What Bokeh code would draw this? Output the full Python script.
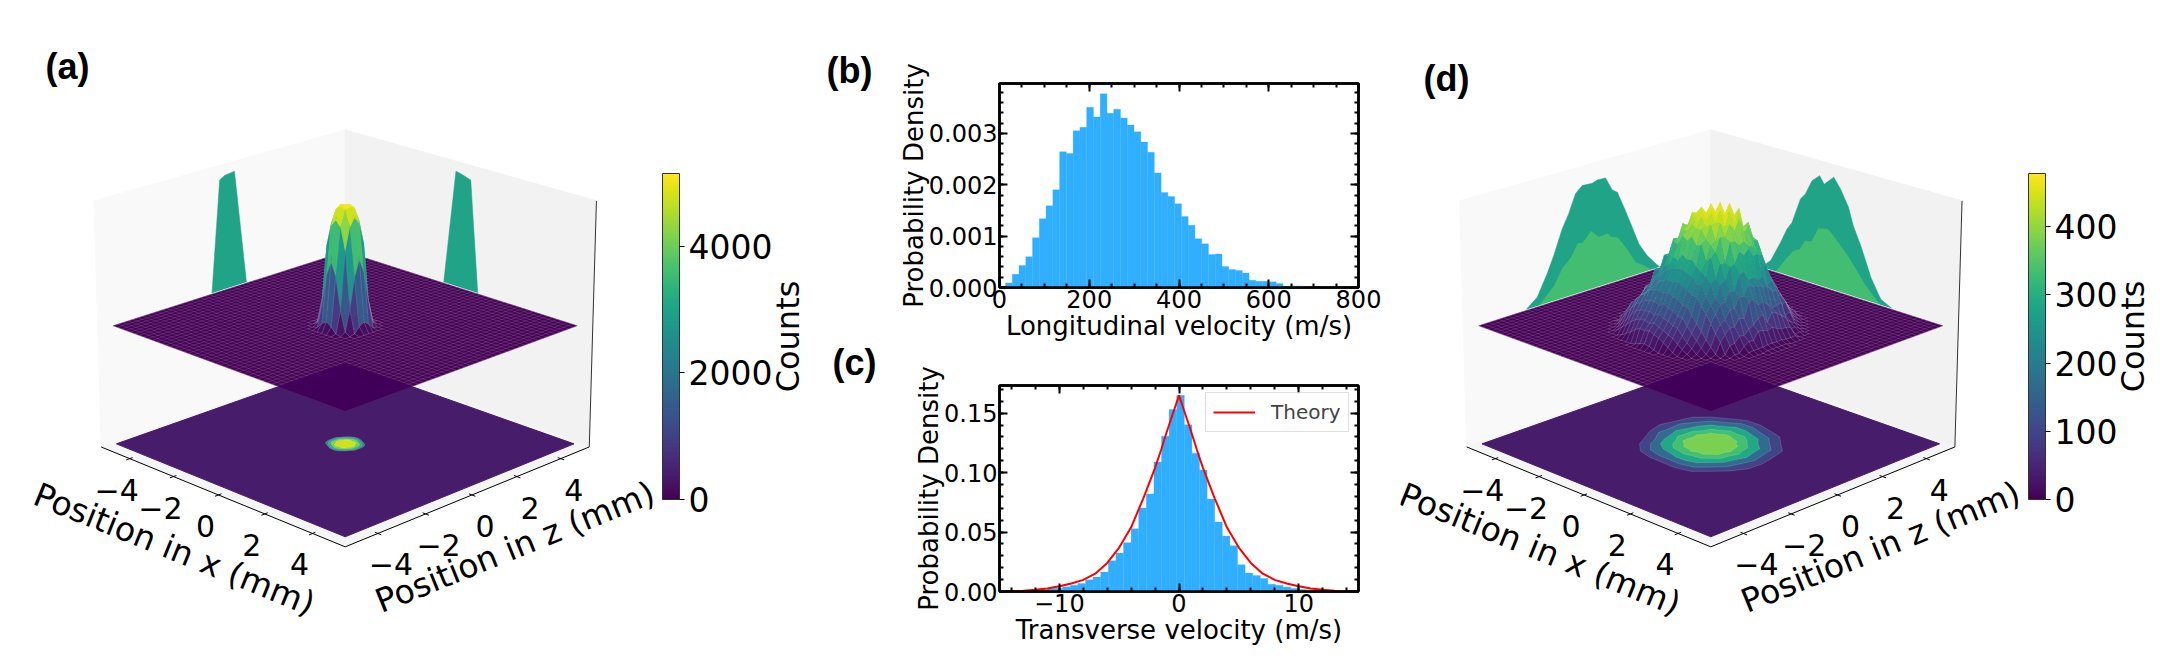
import math
import numpy as np
from bokeh.plotting import figure
from bokeh.layouts import row, column
from bokeh.embed import file_html
from bokeh.resources import INLINE
from bokeh.models import (ColumnDataSource, Range1d, LinearAxis, SingleIntervalTicker, FixedTicker, NumeralTickFormatter,
                          ColorBar, LinearColorMapper, Legend, LegendItem)
from bokeh.palettes import Viridis256

# ---------- panel (b)
b_start, b_step = 13.3, 15.08
b_density = [.00009,.00026,.00043,.0006,.00097,.00134,.00159,.0019,.00264,.00261,.00305,.00312,.00351,.00332,.00377,.00339,
             .00347,.0033,.00316,.00303,.00283,.00263,.00223,.00185,.00177,.00163,.00138,.00121,.00095,.00085,.00064,.00065,
             .00041,.00035,.00033,.00028,.00014,.00012,.00012,.00011,.00008,.00003,.00003,.00003,.00002,.00001,.00001,.00001,
             .00001,.00001,.00001,.00001]
# ---------- panel (c)
c_start, c_step = -14.16, .635
c_density = [.0002,.0003,.0004,.0006,.0008,.0025,.0028,.0039,.0053,.0067,.0098,.0121,.0163,.0259,.0323,.041,.0528,.0703,.0821,.109,
             .1307,.1531,.165,.1402,.1163,.1023,.0778,.0584,.0466,.0385,.0225,.0155,.0135,.011,.0062,.0053,.0037,.0025,.0017,.0012,
             .0009,.0006,.0004,.0003]
theory_v = [-15,-14,-13,-12,-11,-10,-9,-8,-7,-6,-5,-4,-3,-2,-1.5,-1,-.5,0,.5,1,1.5,2,3,4,5,6,7,8,9,10,11,12,13,14,15]
theory_p = [.0001,.0003,.0007,.0014,.0026,.0045,.0068,.0098,.015,.024,.037,.054,.078,.104,.119,.135,.150,.165,.150,.135,.119,.104,
            .078,.054,.037,.024,.015,.0098,.0068,.0045,.0026,.0014,.0007,.0003,.0001]

# ---------- 3D panels: counts on the wall profiles
a_left_z = [-.91,-.51,-.3,.12,.58];  a_left_c = [0,4850,4980,5040,0]
a_right_x = [-.59,-.12,.05,.51,.88]; a_right_c = [0,5040,5000,4850,0]
d_left_outer_z = [-3.12,-2.6,-2.17,-1.88,-1.51,-1.23,-.93,-.64,-.22,0,.35,.63,.85,1.13,1.48,1.76,2.13,2.71]
d_left_outer_c = [0,39,121,186,282,334,406,431,429,436,435,379,363,294,203,127,67,0]
d_left_inner_z = [-2.55,-1.88,-1.51,-1.15,-.87,-.65,-.29,.02,.42,.56,.85,1.19,1.62,1.98,2.35]
d_left_inner_c = [0,64,126,156,204,201,238,205,207,190,178,128,54,30,0]
d_right_outer_x = [-2.74,-2.29,-1.86,-1.58,-1.37,-1.01,-.8,-.52,-.2,0,.4,.69,1.04,1.25,1.61,2.03,2.45,3.0]
d_right_outer_c = [0,42,130,193,225,332,358,419,448,419,458,419,355,287,209,101,27,0]
d_right_inner_x = [-2.08,-1.65,-1.29,-1.01,-.79,-.51,-.23,.2,.48,1.04,1.39,1.82,2.45]
d_right_inner_c = [0,63,112,126,167,172,233,243,217,159,116,61,0]

# surface counts, 0.2 mm cells, rows centred on the beam axis
a_surface = [
 [0,0,40,260,420,300,60,0,0],
 [0,120,900,2200,2900,2400,1000,150,0],
 [60,1000,3300,4300,4700,4400,3500,1100,50],
 [300,2300,4300,5000,5100,5000,4400,2400,280],
 [400,2900,4600,5100,5150,5080,4700,3000,430],
 [280,2200,4300,4950,5100,5020,4350,2300,300],
 [50,1050,3400,4300,4600,4350,3400,1050,60],
 [0,140,950,2300,2900,2350,980,130,0],
 [0,0,60,300,440,280,50,0,0]]
d_surface_rows = [
 [6,12,18,14,8],
 [6,14,26,22,30,26,32,24,26,14,7],
 [6,20,24,40,38,60,56,74,64,72,50,54,30,22,7],
 [8,24,36,62,60,88,78,104,92,108,92,100,74,64,40,22,8],
 [8,26,44,72,72,106,98,124,114,139,126,142,116,126,92,74,44,24,8],
 [8,24,56,68,98,98,132,122,152,146,172,160,180,150,162,124,110,80,56,24,8],
 [8,26,44,92,90,124,130,170,150,190,184,216,196,222,190,200,164,144,116,96,60,24,8],
 [6,24,40,90,106,148,152,204,196,244,224,264,240,268,230,240,198,178,148,112,84,56,36,20,6],
 [8,30,56,100,134,168,192,230,256,286,300,322,340,336,316,300,272,222,200,130,114,60,50,18,6],
 [6,24,46,72,110,126,168,190,236,268,304,316,368,362,402,374,396,344,336,286,242,198,164,124,70,38,10],
 [6,28,46,100,106,158,172,244,242,330,318,392,372,440,396,444,384,410,342,290,262,188,170,116,84,44,10],
 [8,32,60,96,136,160,214,236,298,326,384,372,442,416,472,430,464,394,404,330,308,226,192,114,100,44,10],
 [4,10,34,60,122,130,194,208,288,286,392,362,442,412,476,436,478,432,456,386,336,304,216,196,136,110,52,14,4],
 [4,24,28,84,104,160,178,242,274,340,366,420,406,470,444,478,446,476,420,444,362,340,234,206,150,76,64,12,4],
 [4,12,36,64,130,138,206,220,306,304,408,376,456,424,478,450,476,446,470,402,352,320,228,208,144,114,56,14,4],
 [4,14,34,72,118,150,192,224,288,320,380,410,440,468,450,476,444,474,414,434,372,338,268,224,170,104,64,14,4],
 [4,12,40,62,128,130,200,204,300,286,392,370,446,424,468,430,460,432,436,388,376,296,262,186,170,84,66,10,4],
 [10,50,74,100,160,170,244,246,334,340,400,398,444,428,448,420,430,372,394,300,290,206,186,110,74,36,10],
 [10,44,56,104,130,178,210,254,280,336,350,392,390,422,410,412,380,362,340,302,240,210,148,118,56,40,10],
 [8,40,58,80,136,146,214,212,280,282,344,340,380,366,386,356,366,306,326,250,236,170,150,90,60,26,8],
 [6,36,76,102,140,162,192,208,248,260,296,290,316,302,306,284,272,256,234,186,170,116,92,38,6],
 [6,32,60,96,116,150,162,192,210,240,250,262,266,270,258,252,228,232,194,168,138,106,72,36,6],
 [6,36,70,92,128,142,166,180,206,214,224,220,228,216,210,192,192,162,138,108,76,48,6],
 [8,40,66,100,116,140,150,172,178,184,176,188,176,172,154,156,128,102,78,52,30,8],
 [8,36,66,88,112,122,138,142,146,136,148,138,132,118,118,92,70,48,26,8],
 [8,30,50,76,94,106,108,112,104,114,104,98,88,84,60,40,24,8],
 [8,26,42,60,74,82,84,78,86,76,70,58,52,34,20,8],
 [8,20,32,48,58,56,62,54,46,34,22,8],
 [4,12,18,14,6]]

# floor contour radii (mm), sampled every 15 degrees
d_rings = [
 [2.25,2.2,2.28,2.16,2.22,2.14,2.2,2.26,2.18,2.24,2.3,2.2,2.26,2.18,2.12,2.2,2.24,2.16,2.1,2.2,2.28,2.2,2.24,2.3],
 [1.9,1.84,1.92,1.82,1.86,1.8,1.88,1.94,1.84,1.9,1.86,1.92,1.82,1.88,1.78,1.86,1.92,1.84,1.8,1.88,1.94,1.86,1.9,1.84],
 [1.55,1.5,1.56,1.46,1.52,1.48,1.54,1.58,1.5,1.56,1.52,1.48,1.54,1.46,1.5,1.56,1.52,1.46,1.5,1.54,1.58,1.5,1.54,1.48],
 [1.2,1.14,1.18,1.12,1.16,1.2,1.14,1.22,1.16,1.2,1.12,1.18,1.14,1.2,1.12,1.18,1.2,1.14,1.16,1.12,1.2,1.16,1.22,1.14],
 [.88,.82,.86,.78,.84,.8,.86,.9,.82,.88,.8,.86,.78,.84,.9,.82,.86,.8,.84,.78,.88,.84,.9,.82]]
d_ring_colors = ["#414487", "#2f6c8e", "#22a884", "#44bf70", "#7ad151"]
a_rings = [
 [.58,.6,.62,.6,.56,.58,.6,.62,.6,.58,.56,.6,.58,.6,.62,.6,.56,.58,.6,.62,.6,.58,.56,.6],
 [.5,.52,.54,.52,.5,.52,.54,.52,.5,.5,.5,.52,.5,.52,.54,.52,.5,.52,.54,.52,.5,.5,.5,.52],
 [.42,.44,.46,.44,.42,.44,.46,.44,.42,.42,.42,.44,.42,.44,.46,.44,.42,.44,.46,.44,.42,.42,.42,.44],
 [.34,.33,.3,.33,.34,.33,.3,.33,.34,.33,.3,.33,.34,.33,.3,.33,.34,.33,.3,.33,.34,.33,.3,.33]]
a_ring_colors = ["#3b7f8f", "#28ae80", "#7ad151", "#d0e11c"]

axis_ticks = [-4, -2, 0, 2, 4]
tick_text = ["\u22124", "\u22122", "0", "2", "4"]
TEAL, GREEN = "#20a386", "#43bd72"
BAR = "#30aeff"
FONT = {"value": "DejaVu Sans"}

# ---------- projection of the 3D box onto the page
B, M, N, K, CY = 5.336, .08, .0423, 3095.0, 325.2
SE, CE = math.sin(math.radians(20)), math.cos(math.radians(20))
H_PEAK = .0412

def proj(x, z, H, cx):
    s = (x + z) / (2 * B) * M
    d = (x - z) / (2 * B) * M
    w = d * CE + H * SE
    t = H * CE - d * SE
    f = 1 / (1 - w)
    return cx + K * f * s, CY - K * f * t

def intersect(p1, p2, p3, p4):
    a1, a2 = np.array(p1), np.array(p2)
    b1, b2 = np.array(p3), np.array(p4)
    A = np.array([a2 - a1, b1 - b2]).T
    u = np.linalg.solve(A, b1 - a1)
    return tuple(a1 + u[0] * (a2 - a1))

def viridis(v):
    return Viridis256[int(max(0, min(255, round(v * 255))))]

def panel3d(x0, x1, cx, vmax, surface, wall_left, wall_right, rings, ring_colors, bar_x, cticks, letter, letter_xy, counts_x):
    p = figure(width=x1 - x0, height=664, x_range=Range1d(x0, x1), y_range=Range1d(664, 0), x_axis_location=None, y_axis_location=None,
               toolbar_location=None, output_backend="svg", min_border=0, outline_line_color=None)
    p.grid.visible = False

    def poly(pts, **kw):
        p.patch([q[0] for q in pts], [q[1] for q in pts], **kw)

    L = 5.0
    poly([proj(-B, -B, -N, cx), proj(-B, B, -N, cx), proj(-B, B, N, cx), proj(-B, -B, N, cx)], fill_color="#f9f9f9", line_color="#f9f9f9")
    poly([proj(-B, B, -N, cx), proj(B, B, -N, cx), proj(B, B, N, cx), proj(-B, B, N, cx)], fill_color="#f2f2f2", line_color="#f2f2f2")
    poly([proj(-B, -B, -N, cx), proj(B, -B, -N, cx), proj(B, B, -N, cx), proj(-B, B, -N, cx)], fill_color="#f5f5f5", line_color="#f5f5f5")
    rt, rb = proj(B, B, N, cx), proj(B, B, -N, cx)
    p.line([rt[0], rb[0]], [rt[1], rb[1]], line_color="#333333", line_width=1)

    for (zs, cs, col) in wall_left:
        poly([proj(-L, zi, ci / vmax * H_PEAK, cx) for zi, ci in zip(zs, cs)], fill_color=col, line_color=col, line_width=.5)
    for (xs, cs, col) in wall_right:
        poly([proj(xi, L, ci / vmax * H_PEAK, cx) for xi, ci in zip(xs, cs)], fill_color=col, line_color=col, line_width=.5)

    Hf = -.0412
    poly([proj(-L, -L, Hf, cx), proj(L, -L, Hf, cx), proj(L, L, Hf, cx), proj(-L, L, Hf, cx)], fill_color="#471d6b", line_color="#471d6b")
    for radii, col in zip(rings, ring_colors):
        pts = [proj(r * math.cos(math.radians(15 * k)), r * math.sin(math.radians(15 * k)), Hf, cx) for k, r in enumerate(radii)]
        poly(pts, fill_color=col, line_color="#ffffff", line_alpha=.18, line_width=.8)

    sl, sb, sr, sf = proj(-L, -L, 0, cx), proj(-L, L, 0, cx), proj(L, L, 0, cx), proj(L, -L, 0, cx)
    p.line([sl[0], sb[0], sr[0]], [sl[1], sb[1], sr[1]], line_color="white", line_width=2)
    poly([sl, sb, sr, sf], fill_color="#440154", line_color="#440154", line_width=.5)
    cells = np.arange(-L, L + .001, .2)
    gx, gy = [], []
    for c in cells:
        a, b2 = proj(c, -L, 0, cx), proj(c, L, 0, cx)
        gx.append([a[0], b2[0]]); gy.append([a[1], b2[1]])
        a, b2 = proj(-L, c, 0, cx), proj(L, c, 0, cx)
        gx.append([a[0], b2[0]]); gy.append([a[1], b2[1]])
    p.multi_line(gx, gy, line_color="#ffffff", line_alpha=.22, line_width=.6)
    fl, fb, fr = proj(-L, -L, Hf, cx), proj(-L, L, Hf, cx), proj(L, L, Hf, cx)
    ol = intersect(fl, fb, sl, sf)
    orr = intersect(fb, fr, sr, sf)
    poly([fb, orr, sf, ol], fill_color="#40005a", line_color="#40005a", line_width=.5)

    size = max(len(r) for r in surface)
    grid = np.zeros((size + 2, size + 2))
    for i, r in enumerate(surface):
        pad = (size - len(r)) // 2
        grid[i + 1, pad + 1:pad + 1 + len(r)] = r
    half = (size + 1) // 2
    faces = []
    for i in range(size + 1):
        for j in range(size + 1):
            corner = [grid[i, j], grid[i + 1, j], grid[i + 1, j + 1], grid[i, j + 1]]
            if max(corner) <= 0:
                continue
            pos = [(i, j), (i + 1, j), (i + 1, j + 1), (i, j + 1)]
            pts = [proj((jj - half) * .2, (half - ii) * .2, grid[ii, jj] / vmax * H_PEAK, cx) for ii, jj in pos]
            xm = (j + .5 - half) * .2
            zm = (half - i - .5) * .2
            Hm = np.mean(corner) / vmax * H_PEAK
            depth = (xm - zm) / (2 * B) * M * CE + Hm * SE
            faces.append((depth, pts, np.mean(corner) / vmax))
    faces.sort(key=lambda q: q[0])
    src = ColumnDataSource(dict(
        xs=[[q[0] for q in f[1]] for f in faces],
        ys=[[q[1] for q in f[1]] for f in faces],
        col=[viridis(f[2]) for f in faces],
        la=[.26 * max(0, 1 - 1.5 * f[2]) + .01 for f in faces]))
    p.patches("xs", "ys", source=src, fill_color="col", fill_alpha=.95, line_color="white", line_alpha="la", line_width=.5)

    a0, a1, a2 = proj(-B, -B, -N, cx), proj(B, -B, -N, cx), proj(B, B, -N, cx)
    p.line([a0[0], a1[0], a2[0]], [a0[1], a1[1], a2[1]], line_color="black", line_width=1)
    tx, ty = [], []
    for t in axis_ticks:
        q0, q1 = proj(t, -B + .12, -N, cx), proj(t, -B - .14, -N, cx)
        tx.append([q0[0], q1[0]]); ty.append([q0[1], q1[1]])
        q0, q1 = proj(B - .12, t, -N, cx), proj(B + .14, t, -N, cx)
        tx.append([q0[0], q1[0]]); ty.append([q0[1], q1[1]])
    p.multi_line(tx, ty, line_color="black", line_width=1)

    xt = [proj(t, -B, -N, cx) for t in axis_ticks]
    zt = [proj(B, t, -N, cx) for t in axis_ticks]
    p.text([q[0] for q in xt], [q[1] for q in xt], text=tick_text, x_offset=-13, y_offset=31, text_font=FONT,
           text_font_size="30px", text_align="center", text_baseline="middle", text_color="black")
    p.text([q[0] for q in zt], [q[1] for q in zt], text=tick_text, x_offset=13, y_offset=31, text_font=FONT,
           text_font_size="30px", text_align="center", text_baseline="middle", text_color="black")
    xm, zm = proj(0, -B, -N, cx), proj(B, 0, -N, cx)
    p.text([xm[0]], [xm[1]], text=["Position in x (mm)"], x_offset=-44, y_offset=54, angle=-22, angle_units="deg", text_font=FONT,
           text_font_size="33px", text_align="center", text_baseline="middle", text_color="black")
    p.text([zm[0]], [zm[1]], text=["Position in z (mm)"], x_offset=43, y_offset=52, angle=22, angle_units="deg", text_font=FONT,
           text_font_size="33px", text_align="center", text_baseline="middle", text_color="black")

    p.text([letter_xy[0]], [letter_xy[1]], text=[letter], text_font={"value": "Liberation Sans"}, text_font_style="bold", text_font_size="36px",
           text_align="center", text_baseline="middle", text_color="black")
    p.text([counts_x], [336], text=["Counts"], angle=90, angle_units="deg", text_font=FONT, text_font_size="32px",
           text_align="center", text_baseline="middle", text_color="black")

    mapper = LinearColorMapper(palette=Viridis256, low=0, high=vmax)
    cb = ColorBar(color_mapper=mapper, ticker=FixedTicker(ticks=cticks), width=17, height=326, location=(bar_x - x0, 165), padding=0, margin=0,
                  major_tick_in=0, major_tick_out=5, major_tick_line_color="black", minor_tick_line_color=None,
                  major_label_text_font="DejaVu Sans", major_label_text_font_size="33px", major_label_text_color="black", label_standoff=4,
                  bar_line_color="#333333", bar_line_width=1, background_fill_alpha=0, border_line_color=None)
    p.add_layout(cb)
    return p


fig_a = panel3d(0, 815, 344.7, 5150, a_surface,
                [(a_left_z, a_left_c, TEAL)], [(a_right_x, a_right_c, TEAL)],
                a_rings, a_ring_colors, 662, [0, 2000, 4000], "(a)", (67, 66), 787)
fig_d = panel3d(1400, 2150, 1710.3, 478, d_surface_rows,
                [(d_left_outer_z, d_left_outer_c, TEAL), (d_left_inner_z, d_left_inner_c, GREEN)],
                [(d_right_outer_x, d_right_outer_c, TEAL), (d_right_inner_x, d_right_inner_c, GREEN)],
                d_rings, d_ring_colors, 2028, [0, 100, 200, 300, 400], "(d)", (1446, 78), 2132)

# narrow strip that carries the letters of the two histograms
fig_letters = figure(width=70, height=664, x_range=Range1d(815, 885), y_range=Range1d(664, 0), x_axis_location=None, y_axis_location=None,
                     toolbar_location=None, output_backend="svg", min_border=0, outline_line_color=None)
fig_letters.grid.visible = False
fig_letters.text([849, 854], [70, 362], text=["(b)", "(c)"], text_font={"value": "Liberation Sans"}, text_font_style="bold", text_font_size="36px",
                 text_align="center", text_baseline="middle", text_color="black")


def hist_fig(h, top, bottom, left, right, xr, yr, xi, xn, yi, yn, xlabel, ylabel, yfmt, overrides):
    p = figure(width=515, height=h, x_range=Range1d(*xr), y_range=Range1d(*yr), toolbar_location=None, output_backend="svg",
               min_border_left=left, min_border_right=right, min_border_top=top, min_border_bottom=bottom,
               outline_line_color="black", outline_line_width=2.5)
    p.grid.visible = False
    xax, yax = p.xaxis[0], p.yaxis[0]
    xax.ticker = SingleIntervalTicker(interval=xi, num_minor_ticks=xn)
    yax.ticker = SingleIntervalTicker(interval=yi, num_minor_ticks=yn)
    yax.formatter = NumeralTickFormatter(format=yfmt)
    xax.major_label_overrides = overrides
    xax.axis_label, yax.axis_label = xlabel, ylabel
    top_ax = LinearAxis(ticker=SingleIntervalTicker(interval=xi, num_minor_ticks=xn), major_label_text_font_size="1px",
                        major_label_text_color=None, major_label_standoff=0)
    right_ax = LinearAxis(ticker=SingleIntervalTicker(interval=yi, num_minor_ticks=yn), major_label_text_font_size="1px",
                          major_label_text_color=None, major_label_standoff=0)
    p.add_layout(top_ax, "above")
    p.add_layout(right_ax, "right")
    for ax in (xax, yax, top_ax, right_ax):
        ax.axis_line_width = 2.5
        ax.axis_line_color = "black"
        ax.major_tick_in, ax.major_tick_out = 8, 0
        ax.minor_tick_in, ax.minor_tick_out = 4, 0
        ax.major_tick_line_width = 2
        ax.minor_tick_line_width = 2
        ax.major_tick_line_color = "black"
        ax.minor_tick_line_color = "black"
    for ax in (xax, yax):
        ax.major_label_text_font = "DejaVu Sans"
        ax.major_label_text_font_size = "24px"
        ax.major_label_text_color = "black"
        ax.major_label_standoff = 2
        ax.axis_label_text_font = "DejaVu Sans"
        ax.axis_label_text_font_size = "26px"
        ax.axis_label_text_color = "black"
        ax.axis_label_text_font_style = "normal"
    xax.axis_label_standoff = 0
    yax.axis_label_standoff = -3
    return p


fig_b = hist_fig(349, 83, 62, 114, 40, (0, 800), (0, .00397), 200, 4, .001, 5,
                 "Longitudinal velocity (m/s)", "Probability Density", "0.000", {})
b_left = [b_start + b_step * i for i in range(len(b_density))]
fig_b.quad(left=b_left, right=[v + b_step for v in b_left], bottom=0, top=b_density, fill_color=BAR, line_color=BAR, line_width=.3)

fig_c = hist_fig(315, 36, 73, 112, 42, (-15, 15), (0, .1733), 10, 5, .05, 5,
                 "Transverse velocity (m/s)", "Probability Density", "0.00", {-10: "\u221210", 0: "0", 10: "10"})
c_left = [c_start + c_step * i for i in range(len(c_density))]
fig_c.quad(left=c_left, right=[v + c_step for v in c_left], bottom=0, top=c_density, fill_color=BAR, line_color=BAR, line_width=.3)
th = fig_c.line(theory_v, theory_p, line_color="red", line_width=2)
leg = Legend(items=[LegendItem(label="Theory", renderers=[th])], location=(206, 159), glyph_width=42, label_standoff=16, padding=7, margin=0,
             label_text_font="DejaVu Sans", label_text_font_size="20px", border_line_color="#000000", border_line_alpha=.12, background_fill_alpha=.8)
fig_c.add_layout(leg)

page = row(fig_a, fig_letters, column(fig_b, fig_c, spacing=0), fig_d, spacing=0)
open("out.html", "w").write(file_html(page, INLINE))
